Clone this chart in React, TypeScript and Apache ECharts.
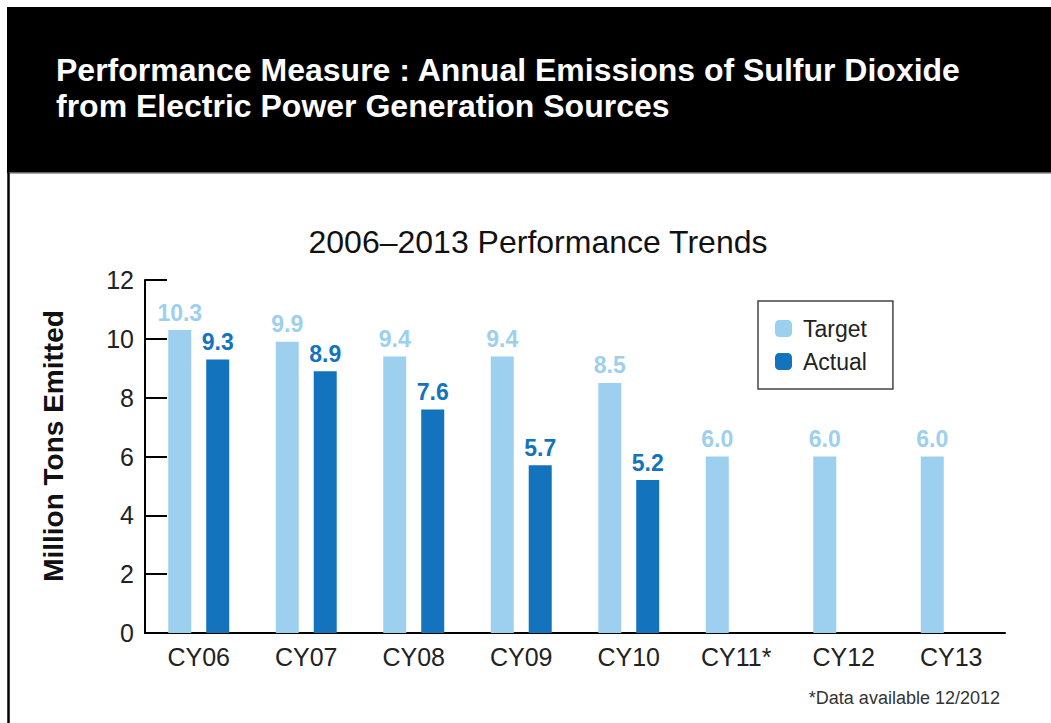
import React, { useEffect, useRef } from "react";
import * as echarts from "echarts";

const categories = ["CY06", "CY07", "CY08", "CY09", "CY10", "CY11*", "CY12", "CY13"];
const targetValues = [10.3, 9.9, 9.4, 9.4, 8.5, 6.0, 6.0, 6.0];
const actualValues: (number | null)[] = [9.3, 8.9, 7.6, 5.7, 5.2, null, null, null];
const yTicks = { min: 0, max: 12, interval: 2 };

const FONT = "'Liberation Sans', Arial, Helvetica, sans-serif";
const LIGHT = "#9dcfef";
const DARK = "#1473bd";

export default function App() {
  const ref = useRef<HTMLDivElement>(null);
  useEffect(() => {
    if (!ref.current) return;
    const chart = echarts.init(ref.current, null, { renderer: "svg" });
    chart.setOption({
      animation: false,
      backgroundColor: "#ffffff",
      textStyle: { fontFamily: FONT },
      graphic: [
        { type: "rect", z: -10, shape: { x: 7, y: 7, width: 1044, height: 166 }, style: { fill: "#000000" } },
        { type: "line", z: -9, shape: { x1: 9, y1: 173, x2: 1051, y2: 173 }, style: { stroke: "#888", lineWidth: 1.5 } },
        { type: "line", z: -9, shape: { x1: 8.5, y1: 173, x2: 8.5, y2: 723 }, style: { stroke: "#000", lineWidth: 2.5 } },
        {
          type: "text", x: 56, y: 70,
          style: {
            text: "Performance Measure : Annual Emissions of Sulfur Dioxide",
            fill: "#ffffff", font: `bold 32px ${FONT}`, verticalAlign: "middle",
          },
        },
        {
          type: "text", x: 56, y: 106,
          style: {
            text: "from Electric Power Generation Sources",
            fill: "#ffffff", font: `bold 32px ${FONT}`, verticalAlign: "middle",
          },
        },
        {
          type: "text", x: 538, y: 242,
          style: { text: "2006–2013 Performance Trends", fill: "#111", font: `32px ${FONT}`, align: "center", verticalAlign: "middle" },
        },
        {
          type: "text", x: 53, y: 446, rotation: Math.PI / 2,
          style: { text: "Million Tons Emitted", fill: "#111", font: `bold 28px ${FONT}`, align: "center", verticalAlign: "middle" },
        },
        {
          type: "text", x: 1000, y: 698,
          style: { text: "*Data available 12/2012", fill: "#333", font: `18px ${FONT}`, align: "right", verticalAlign: "middle" },
        },
      ],
      legend: {
        orient: "vertical",
        left: 758,
        top: 301,
        itemWidth: 17,
        itemHeight: 17,
        itemGap: 10,
        padding: [16, 26, 16, 17],
        borderColor: "#444",
        borderWidth: 1.5,
        textStyle: { fontSize: 23, color: "#222", fontFamily: FONT, padding: [0, 0, 0, 6] },
        data: ["Target", "Actual"],
      },
      grid: { left: 145, right: 46, top: 280, bottom: 90, containLabel: false },
      xAxis: {
        type: "category",
        data: categories,
        axisLine: { lineStyle: { color: "#000", width: 2 } },
        axisTick: { inside: true, length: 9, lineStyle: { color: "#000", width: 2 } },
        axisLabel: { fontSize: 25, color: "#222", margin: 11, fontFamily: FONT },
      },
      yAxis: {
        type: "value",
        min: yTicks.min,
        max: yTicks.max,
        interval: yTicks.interval,
        axisLine: { show: true, lineStyle: { color: "#000", width: 2 } },
        axisTick: { show: true, inside: true, length: 22, lineStyle: { color: "#000", width: 2 } },
        axisLabel: { fontSize: 25, color: "#222", margin: 11, fontFamily: FONT },
        splitLine: { show: false },
      },
      series: [
        {
          name: "Target",
          type: "bar",
          data: targetValues,
          barWidth: 23,
          barGap: "65%",
          itemStyle: { color: LIGHT },
          label: {
            show: true, position: "top", distance: 6,
            formatter: (p: any) => Number(p.value).toFixed(1),
            color: LIGHT, fontSize: 23, fontWeight: "bold", fontFamily: FONT,
          },
        },
        {
          name: "Actual",
          type: "bar",
          data: actualValues,
          barWidth: 23,
          barGap: "65%",
          itemStyle: { color: DARK },
          label: {
            show: true, position: "top", distance: 6,
            formatter: (p: any) => Number(p.value).toFixed(1),
            color: DARK, fontSize: 23, fontWeight: "bold", fontFamily: FONT,
          },
        },
      ],
    });
    return () => chart.dispose();
  }, []);
  return <div ref={ref} style={{ position: "absolute", left: 0, top: 0, width: 1051, height: 723 }} />;
}
